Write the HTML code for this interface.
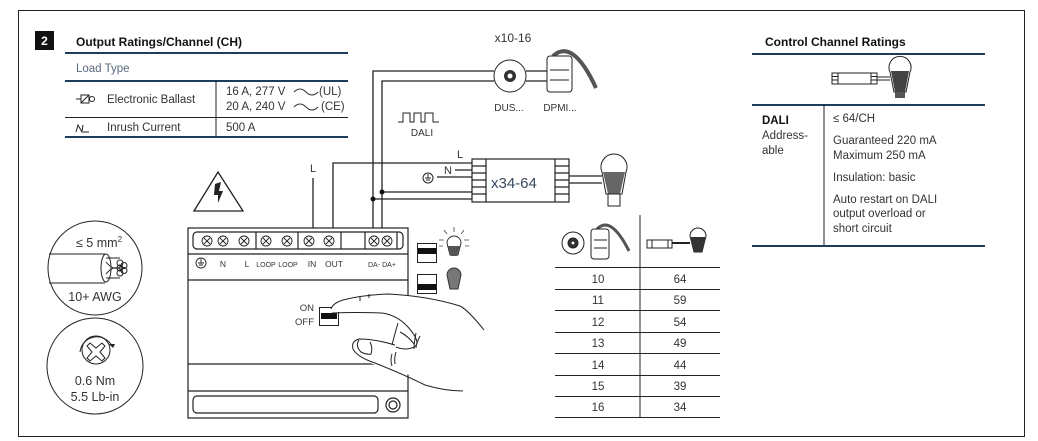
<!DOCTYPE html>
<html><head><meta charset="utf-8"><style>
html,body{margin:0;padding:0;background:#fff}
svg{display:block}
text{font-family:"Liberation Sans",sans-serif;fill:#333}
</style></head><body>
<svg width="1038" height="441" viewBox="0 0 1038 441" xmlns="http://www.w3.org/2000/svg">
<rect x="18.5" y="10.5" width="1006" height="426" fill="none" stroke="#222" stroke-width="1"/>
<rect x="35" y="31" width="19" height="19" fill="#111"/>
<text x="44.5" y="45" font-size="12" font-weight="bold" style="fill:#fff" text-anchor="middle">2</text>

<text x="76" y="46" font-size="12" font-weight="bold" style="fill:#111">Output Ratings/Channel (CH)</text>
<line x1="65" y1="53" x2="348" y2="53" stroke="#1d3d5c" stroke-width="2"/>
<text x="76" y="72" font-size="11.5" style="fill:#5a6a80">Load Type</text>
<line x1="65" y1="81" x2="348" y2="81" stroke="#1d3d5c" stroke-width="2"/>
<line x1="216" y1="81" x2="216" y2="137" stroke="#222" stroke-width="1"/>
<line x1="65" y1="117.5" x2="348" y2="117.5" stroke="#222" stroke-width="1"/>
<line x1="65" y1="137" x2="348" y2="137" stroke="#1d3d5c" stroke-width="2"/>
<g stroke="#222" fill="none" stroke-width="1">
<line x1="76" y1="99" x2="81" y2="99"/><rect x="81" y="95" width="8" height="8"/><line x1="81" y1="103" x2="89" y2="95"/><circle cx="92" cy="99" r="2.5"/>
<path d="M76 132 L78 125 L82 132 L83 125 M83 132 L89 132"/>
</g>
<text x="107" y="103" font-size="11.5">Electronic Ballast</text>
<text x="107" y="131" font-size="11.5">Inrush Current</text>
<text x="226" y="95" font-size="11.5">16 A, 277 V</text>
<text x="226" y="110" font-size="11.5">20 A, 240 V</text>
<path d="M294 92 q6 -6 12 0 q6 6 12 0" fill="none" stroke="#333"/>
<path d="M294 107 q6 -6 12 0 q6 6 12 0" fill="none" stroke="#333"/>
<text x="319" y="95" font-size="11.5">(UL)</text>
<text x="321" y="110" font-size="11.5">(CE)</text>
<text x="226" y="131" font-size="11.5">500 A</text>

<text x="765" y="46" font-size="12" font-weight="bold" style="fill:#111">Control Channel Ratings</text>
<line x1="752" y1="54" x2="985" y2="54" stroke="#1d3d5c" stroke-width="2"/>
<g stroke="#222" fill="none">
<rect x="832" y="73" width="45" height="11"/><line x1="838" y1="73" x2="838" y2="84"/><line x1="871" y1="73" x2="871" y2="84"/>
<line x1="832" y1="76.5" x2="838" y2="76.5"/><line x1="832" y1="80" x2="838" y2="80"/><line x1="871" y1="76.5" x2="877" y2="76.5"/><line x1="871" y1="80" x2="877" y2="80"/>
<line x1="877" y1="77" x2="890" y2="77"/><line x1="877" y1="80" x2="890" y2="80"/>
<path d="M890 72 a11 11 0 1 1 20 0 l-4 20 h-12 z" fill="#fff"/>
</g>
<path d="M891 71 h18 l-4 21 h-10 z" fill="#444"/>
<rect x="895" y="92" width="10" height="6" fill="#555"/>
<line x1="752" y1="105" x2="985" y2="105" stroke="#1d3d5c" stroke-width="2"/>
<line x1="824" y1="105" x2="824" y2="246" stroke="#222"/>
<line x1="752" y1="246" x2="985" y2="246" stroke="#1d3d5c" stroke-width="2"/>
<text x="762" y="124" font-size="11.5" font-weight="bold" style="fill:#111">DALI</text>
<text x="762" y="139" font-size="11.5">Address-</text>
<text x="762" y="154" font-size="11.5">able</text>
<g font-size="11.5">
<text x="833" y="122">≤ 64/CH</text>
<text x="833" y="144">Guaranteed 220 mA</text>
<text x="833" y="159">Maximum 250 mA</text>
<text x="833" y="181">Insulation: basic</text>
<text x="833" y="203">Auto restart on DALI</text>
<text x="833" y="217">output overload or</text>
<text x="833" y="232">short circuit</text>
</g>

<line x1="640" y1="215" x2="640" y2="418" stroke="#222"/>
<g stroke="#222">
<line x1="555" y1="267.5" x2="720" y2="267.5"/><line x1="555" y1="289.5" x2="720" y2="289.5"/>
<line x1="555" y1="310.5" x2="720" y2="310.5"/><line x1="555" y1="332.5" x2="720" y2="332.5"/>
<line x1="555" y1="353.5" x2="720" y2="353.5"/><line x1="555" y1="375.5" x2="720" y2="375.5"/>
<line x1="555" y1="396.5" x2="720" y2="396.5"/><line x1="555" y1="417.5" x2="720" y2="417.5"/>
</g>
<g font-size="11.5" text-anchor="middle">
<text x="598" y="283">10</text><text x="680" y="283">64</text>
<text x="598" y="304">11</text><text x="680" y="304">59</text>
<text x="598" y="326">12</text><text x="680" y="326">54</text>
<text x="598" y="347">13</text><text x="680" y="347">49</text>
<text x="598" y="369">14</text><text x="680" y="369">44</text>
<text x="598" y="390">15</text><text x="680" y="390">39</text>
<text x="598" y="411">16</text><text x="680" y="411">34</text>
</g>
<g stroke="#222" fill="none">
<circle cx="573" cy="243" r="11"/><circle cx="573" cy="243" r="5" fill="#333"/><circle cx="573" cy="243" r="2" fill="#fff"/>
<path d="M597 229 q14 -14 32 22" stroke="#555" stroke-width="3"/>
<rect x="591" y="229" width="18" height="30" rx="3" fill="#fff"/><line x1="594" y1="240" x2="607" y2="240"/><line x1="594" y1="248" x2="607" y2="248"/>
<rect x="647" y="240" width="25" height="8"/><line x1="652" y1="240" x2="652" y2="248"/><line x1="668" y1="240" x2="668" y2="248"/>
<line x1="672" y1="243" x2="690" y2="243" stroke-width="2"/>
</g>
<path d="M690 236 a8 8 0 1 1 16 0 l-4 16 h-8 z" fill="#fff" stroke="#222"/>
<path d="M690 237 h16 l-4 15 h-8 z" fill="#333"/>

<circle cx="95" cy="268" r="47" fill="none" stroke="#222"/>
<text x="99" y="247" font-size="12.5" text-anchor="middle">≤ 5 mm<tspan font-size="8" dy="-5">2</tspan></text>
<g stroke="#222" fill="none">
<path d="M49 254 H105 M49 283 H105"/>
<ellipse cx="106" cy="268" rx="5" ry="14" fill="#fff"/>
<path d="M106 258 h14 M106 278 h14 M106 262 q8 10 16 4 M106 274 q8 -10 16 -4"/>
<circle cx="120" cy="263" r="3"/><circle cx="120" cy="268" r="3"/><circle cx="120" cy="273" r="3"/><circle cx="124" cy="265.5" r="3"/><circle cx="124" cy="270.5" r="3"/>
</g>
<text x="95" y="301" font-size="12.5" text-anchor="middle">10+ AWG</text>
<circle cx="95" cy="366" r="48" fill="none" stroke="#222"/>
<g stroke="#222" fill="none">
<circle cx="96" cy="350" r="14"/>
<path d="M90 343 l6 5 l6 -5 l3 3 l-5 6 l5 6 l-3 3 l-6 -5 l-6 5 l-3 -3 l5 -6 l-5 -6 z"/>
<path d="M80 352 a17 17 0 0 1 32 -6"/>
</g>
<path d="M113 348 l-4 -4 l6 0 z" fill="#222"/>
<text x="95" y="385" font-size="12.5" text-anchor="middle">0.6 Nm</text>
<text x="95" y="401" font-size="12.5" text-anchor="middle">5.5 Lb-in</text>

<path d="M194 211 L218 172 L243 211 Z" fill="none" stroke="#222" stroke-width="1.3"/>
<path d="M215 184 l6 -2 l-2 9 l4 0 l-5 12 l0 -8 l-4 0 z" fill="#222"/>

<g stroke="#222" fill="none" stroke-width="1.3">
<path d="M313 178 V228"/>
<path d="M333 228 V163 H472"/>
<path d="M373 228 V71 H494"/>
<path d="M382 228 V81 H494"/>
<path d="M526 71 H547 M526 81 H547"/>
<path d="M455 170 H472"/>
<path d="M437 177 H472"/>
<path d="M382 192 H472 M373 199 H472"/>
<path d="M569 176 H602 M569 183 H602"/>
</g>
<circle cx="382" cy="192" r="2.5" fill="#111"/><circle cx="373" cy="199" r="2.5" fill="#111"/>
<text x="313" y="172" font-size="11" text-anchor="middle">L</text>
<text x="457" y="158" font-size="11">L</text>
<text x="444" y="174" font-size="11">N</text>
<g stroke="#222" fill="none"><circle cx="428" cy="178" r="5"/><path d="M428 174 v4 M425 178 h6 M426 180 h4"/></g>
<g stroke="#222" fill="#fff" stroke-width="1.2">
<rect x="472" y="159" width="97" height="43"/>
<line x1="486" y1="159" x2="486" y2="202"/><line x1="555" y1="159" x2="555" y2="202"/>
<path d="M472 166 h14 M472 173 h14 M472 180 h14 M472 187 h14 M472 194 h14 M555 166 h14 M555 173 h14 M555 180 h14 M555 187 h14 M555 194 h14"/>
</g>
<text x="491" y="188" font-size="15" style="fill:#3a4a60">x34-64</text>
<path d="M602 172 a13 13 0 1 1 24 0 l-4 22 h-16 z" fill="#fff" stroke="#222"/>
<path d="M603 172 h22 l-5 22 h-12 z" fill="#666"/>
<rect x="608" y="194" width="12" height="12" fill="#fff" stroke="#222"/>
<text x="513" y="42" font-size="12" text-anchor="middle">x10-16</text>
<circle cx="510" cy="76" r="16" fill="#fff" stroke="#222"/><circle cx="510" cy="76" r="6" fill="#333"/><circle cx="510" cy="76" r="2.5" fill="#fff"/>
<path d="M553 56 q20 -18 43 32" stroke="#555" stroke-width="4" fill="none"/>
<rect x="547" y="56" width="25" height="36" rx="3" fill="#fff" stroke="#222"/>
<line x1="550" y1="70" x2="569" y2="70" stroke="#222"/><line x1="550" y1="80" x2="569" y2="80" stroke="#222"/>
<text x="509" y="111" font-size="10" text-anchor="middle">DUS...</text>
<text x="560" y="111" font-size="10" text-anchor="middle">DPMI...</text>
<path d="M398 122 h5 v-9 h7 v9 h4 v-9 h7 v9 h4 v-9 h8 v9 h6" fill="none" stroke="#222"/>
<text x="422" y="136" font-size="10" text-anchor="middle">DALI</text>

<g stroke="#222" fill="none" stroke-width="1.2">
<rect x="188" y="228" width="220" height="190" fill="#fff"/>
<rect x="193" y="232" width="210" height="17" rx="4"/>
<path d="M256 232 v17 M298 232 v17 M341 232 v17 M365 232 v17 M397 232 v17"/>
<line x1="188" y1="254" x2="408" y2="254"/>
<line x1="188" y1="280" x2="408" y2="280"/>
<line x1="188" y1="364" x2="408" y2="364"/>
<line x1="188" y1="391" x2="408" y2="391"/>
<rect x="193" y="396" width="185" height="17" rx="4"/>
<circle cx="393" cy="405" r="7"/><circle cx="393" cy="405" r="4"/>
</g>
<g stroke="#222" fill="none" stroke-width="0.9">
<circle cx="207" cy="241" r="5"/><path d="M204 238 l6 6 M210 238 l-6 6"/>
<circle cx="223" cy="241" r="5"/><path d="M220 238 l6 6 M226 238 l-6 6"/>
<circle cx="244" cy="241" r="5"/><path d="M241 238 l6 6 M247 238 l-6 6"/>
<circle cx="266" cy="241" r="5"/><path d="M263 238 l6 6 M269 238 l-6 6"/>
<circle cx="287" cy="241" r="5"/><path d="M284 238 l6 6 M290 238 l-6 6"/>
<circle cx="309" cy="241" r="5"/><path d="M306 238 l6 6 M312 238 l-6 6"/>
<circle cx="329" cy="241" r="5"/><path d="M326 238 l6 6 M332 238 l-6 6"/>
<circle cx="374" cy="241" r="5"/><path d="M371 238 l6 6 M377 238 l-6 6"/>
<circle cx="387" cy="241" r="5"/><path d="M384 238 l6 6 M390 238 l-6 6"/>
<circle cx="201" cy="263" r="5"/><path d="M201 259 v4 M198 263 h6 M199 265 h4"/>
</g>
<g font-size="8.5" text-anchor="middle">
<text x="223" y="267">N</text><text x="247" y="267">L</text>
<text x="266" y="267" font-size="7">LOOP</text><text x="288" y="267" font-size="7">LOOP</text>
<text x="312" y="267">IN</text><text x="334" y="267">OUT</text>
<text x="374" y="267" font-size="7">DA-</text><text x="389" y="267" font-size="7">DA+</text>
</g>
<rect x="417.5" y="243.5" width="19" height="19" fill="#fff" stroke="#222"/><rect x="418" y="248" width="18" height="6" fill="#111"/>
<rect x="417.5" y="274.5" width="19" height="19" fill="#fff" stroke="#222"/><rect x="418" y="284" width="18" height="6" fill="#111"/>
<g stroke="#444" stroke-width="0.8"><path d="M454 232 v-5 M447 234 l-3 -4 M461 234 l3 -4 M444 240 h-5 M464 240 h5 M443 246 h-4 M465 246 h4"/></g>
<path d="M447 243 a7 7 0 1 1 14 0 l-3 12 h-8 z" fill="#fff" stroke="#333"/><path d="M448 246 h12 l-3 10 h-6 z" fill="#555"/>
<path d="M447 275 a7 7 0 1 1 14 0 l-3 14 h-8 z" fill="#777" stroke="#333"/>
<text x="314" y="311" font-size="9.5" text-anchor="end">ON</text>
<text x="314" y="325" font-size="9.5" text-anchor="end">OFF</text>
<rect x="319.5" y="307.5" width="19" height="18" fill="#fff" stroke="#222"/><rect x="321" y="313" width="16" height="6" fill="#111"/>
<path d="M331 309 q2 -6 12 -9 q20 -5 45 -6 q40 2 72 12 q8 4 24 24 L484 342 L484 391 q-30 0 -60 -10 q-20 -8 -30 -12 q-20 -4 -30 -8 q-14 -4 -10 -14 q6 -8 20 -4 q18 3 24 3 q-6 -18 -23 -25 q-25 -10 -55 -10 z" fill="#fff" stroke="none"/>
<g stroke="#222" fill="none" stroke-width="1">
<path d="M331 309 q2 -6 12 -9 q20 -5 45 -6 q40 2 72 12 q8 4 24 24"/>
<path d="M332 313 q25 -1 50 0 q15 2 26 14 q14 16 6 20 q-8 4 -18 0"/>
<path d="M398 323 q-3 10 -6 22"/>
<path d="M414 344 q-6 -8 -14 -12 M416 333 q-2 10 -2 16 M420 336 q-4 8 -4 12"/>
<path d="M395 345 q-20 -6 -36 -6 q-8 2 -6 10 q4 8 22 14 q30 12 50 22 q20 6 38 6"/>
<path d="M359 340 q-4 6 2 12 q6 3 10 2 q2 -6 -1 -12"/>
<path d="M392 354 q-2 6 0 12 M396 352 q-2 6 -1 12"/>
<path d="M360 296 v5 M369 294 v4"/>
</g>
</svg>
</body></html>
